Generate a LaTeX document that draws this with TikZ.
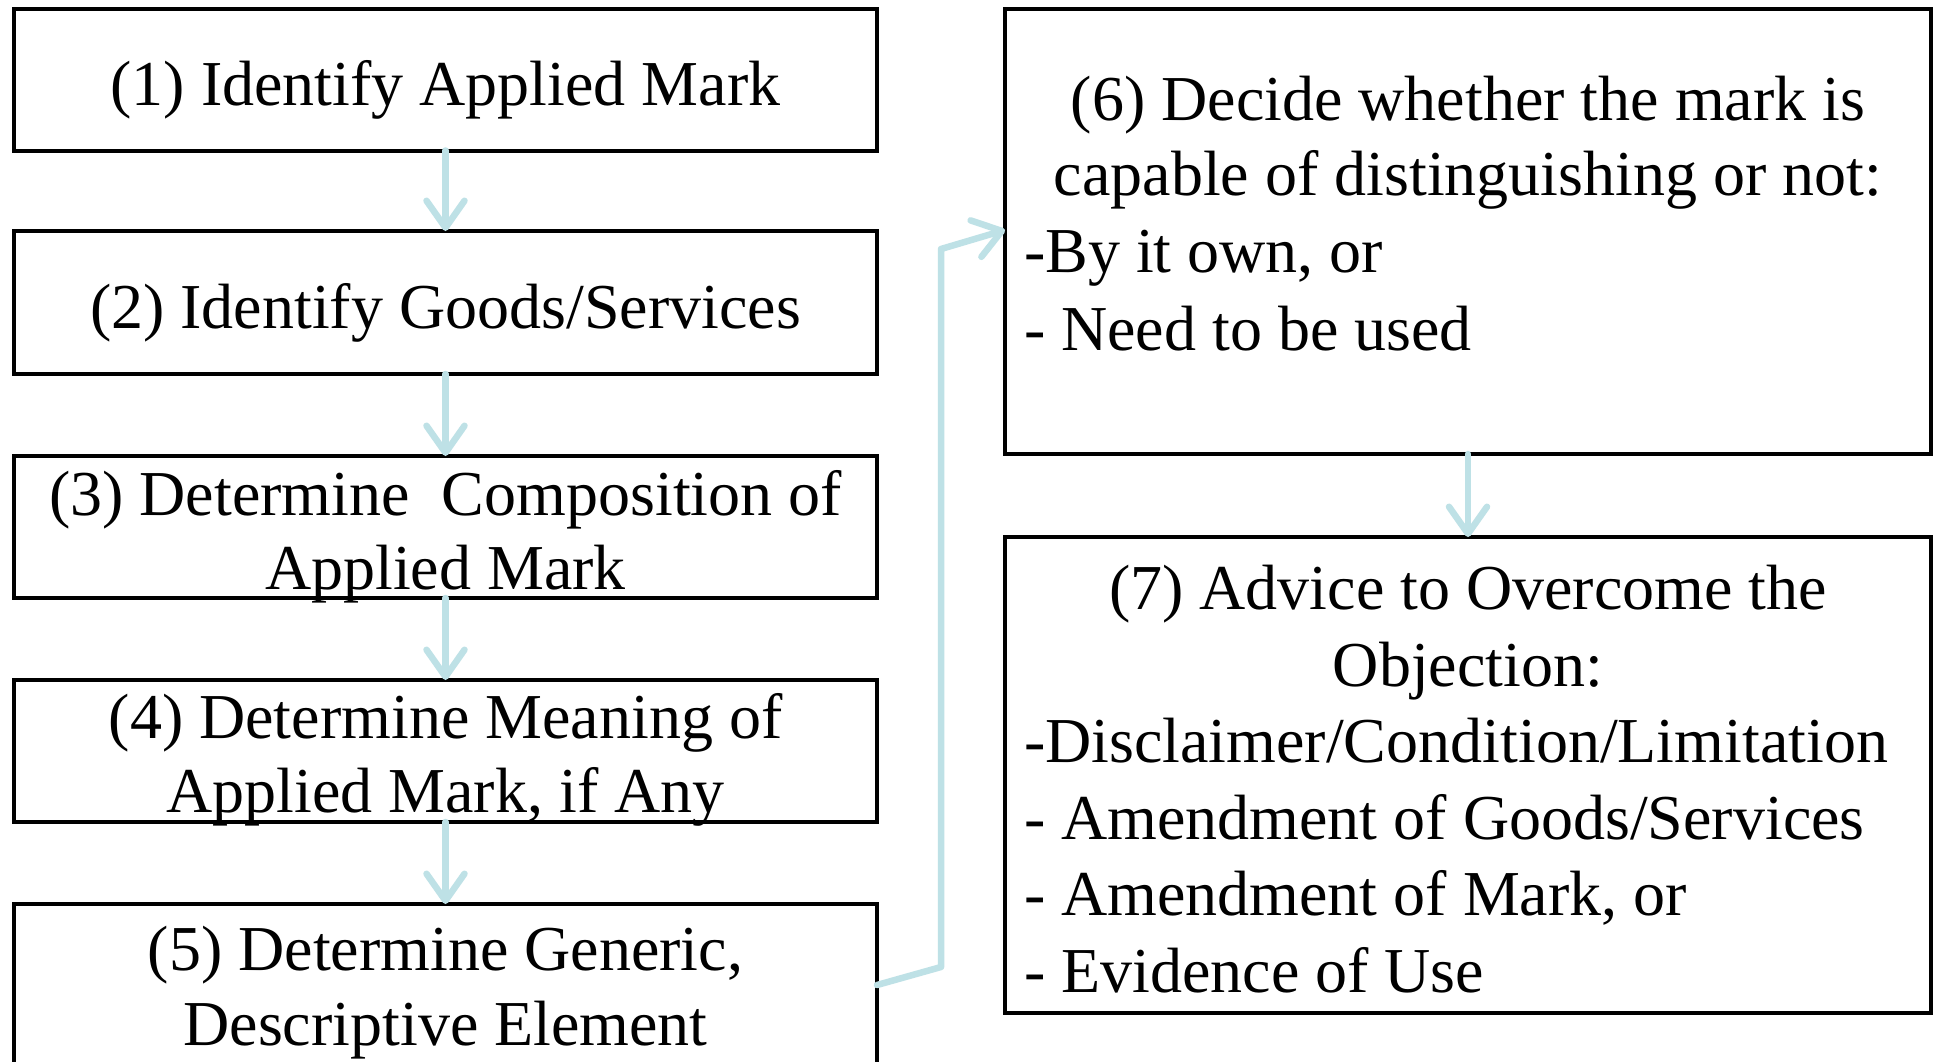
\documentclass[tikz,border=0pt]{standalone}
\usepackage{fontspec}
\setmainfont{Liberation Serif}
\usetikzlibrary{arrows.meta}
\definecolor{arrowblue}{RGB}{190,225,230}
\begin{document}
\begin{tikzpicture}[x=1pt,y=-1pt,
  boxnode/.style={draw=black,line width=4pt,inner sep=0pt,outer sep=0pt,fill=none},
  txt/.style={inner sep=0pt,outer sep=0pt,anchor=base,font=\fontsize{64}{74}\selectfont},
  ltxt/.style={txt,anchor=base west},
  flow/.style={draw=arrowblue,line width=6.5pt,line cap=round,line join=round,
    -{Straight Barb[length=27pt,width=38pt,round]}}]
\useasboundingbox (0,0) rectangle (1936,1061);
\clip (0,0) rectangle (1936,1061);
\fill[white] (0,0) rectangle (1936,1061);
% left column boxes
\node[boxnode,minimum width=863pt,minimum height=142pt] (b1) at (445.5,79.5) {};
\node[boxnode,minimum width=863pt,minimum height=143pt] (b2) at (445.5,302.5) {};
\node[boxnode,minimum width=863pt,minimum height=142pt] (b3) at (445.5,527) {};
\node[boxnode,minimum width=863pt,minimum height=142pt] (b4) at (445.5,751) {};
\node[boxnode,minimum width=863pt,minimum height=176pt] (b5) at (445.5,992) {};
% right column boxes
\node[boxnode,minimum width=926pt,minimum height=445pt] (b6) at (1468,231.5) {};
\node[boxnode,minimum width=926pt,minimum height=476pt] (b7) at (1468,775) {};
% texts
\node[txt] (t1) at (445.5,105) {(1) Identify Applied Mark};
\node[txt] (t2) at (445.5,328) {(2) Identify Goods/Services};
\node[txt] (t3a) at (445.5,515) {(3) Determine\ \ Composition of};
\node[txt] (t3b) at (445.5,589) {Applied Mark};
\node[txt] (t4a) at (445.5,738) {(4) Determine Meaning of};
\node[txt] (t4b) at (445.5,812) {Applied Mark, if Any};
\node[txt] (t5a) at (445.5,970) {(5) Determine Generic,};
\node[txt] (t5b) at (445.5,1045) {Descriptive Element};
\node[txt] (t6a) at (1468,120) {(6) Decide whether the mark is};
\node[txt] (t6b) at (1468,195) {capable of distinguishing or not:};
\node[ltxt] (t6c) at (1024,272) {-By it own, or};
\node[ltxt] (t6d) at (1024,350) {- Need to be used};
\node[txt] (t7a) at (1468,609) {(7) Advice to Overcome the};
\node[txt] (t7b) at (1468,686) {Objection:};
\node[ltxt] (t7c) at (1024,762) {-Disclaimer/Condition/Limitation};
\node[ltxt] (t7d) at (1024,839) {- Amendment of Goods/Services};
\node[ltxt] (t7e) at (1024,915) {- Amendment of Mark, or};
\node[ltxt] (t7f) at (1024,992) {- Evidence of Use};
% connectors
\draw[flow] (b1.south) -- (b2.north);
\draw[flow] (b2.south) -- (b3.north);
\draw[flow] (b3.south) -- (b4.north);
\draw[flow] (b4.south) -- (b5.north);
\draw[flow] (b6.south) -- (b7.north);
\coordinate (c1) at (941,967);
\coordinate (c2) at (941,249);
\draw[flow] ([yshift=-81pt]b5.north east) -- (c1) -- (c2) -- ([yshift=-221pt]b6.north west);
\end{tikzpicture}
\end{document}
